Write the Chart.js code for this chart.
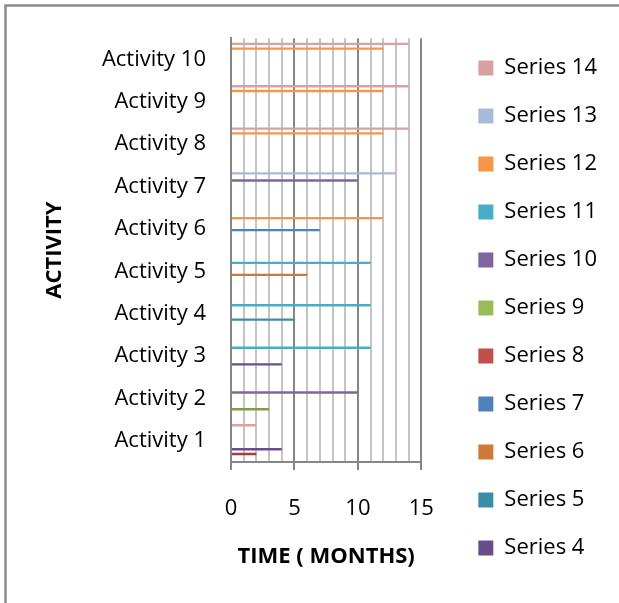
<!DOCTYPE html>
<html>
<head>
<meta charset="utf-8">
<script src="https://cdn.jsdelivr.net/npm/chart.js@4.4.1/dist/chart.umd.min.js"></script>
<style>
  html, body { margin: 0; padding: 0; background: #fff; }
</style>
</head>
<body>
<canvas id="chart" width="619" height="603"></canvas>
<script>
// categories (bottom to top, as in the sheet)
const activities = ['Activity 1', 'Activity 2', 'Activity 3', 'Activity 4', 'Activity 5',
                    'Activity 6', 'Activity 7', 'Activity 8', 'Activity 9', 'Activity 10'];

// months per series, one value per activity (null = no bar)
const series14 = [2, null, null, null, null, null, null, 14, 14, 14];
const series13 = [null, null, null, null, null, null, 13, null, null, null];
const series12 = [null, null, null, null, null, 12, null, 12, 12, 12];
const series11 = [null, null, 11, 11, 11, null, null, null, null, null];
const series10 = [null, 10, null, null, null, null, 10, null, null, null];
const series9 = [null, null, null, null, null, null, null, null, null, null];
const series8 = [null, null, null, null, null, null, null, null, null, null];
const series7 = [null, null, null, null, null, 7, null, null, null, null];
const series6 = [null, null, null, null, 6, null, null, null, null, null];
const series5 = [null, null, null, 5, null, null, null, null, null, null];
const series4 = [4, null, 4, null, null, null, null, null, null, null];
const series3 = [null, 3, null, null, null, null, null, null, null, null];
const series2 = [2, null, null, null, null, null, null, null, null, null];
const series1 = [null, null, null, null, null, null, null, null, null, null];

const xTicks = [0, 5, 10, 15];

// top of each cluster first, so the legend reads Series 14 down
const seriesNames = ['Series 14', 'Series 13', 'Series 12', 'Series 11', 'Series 10', 'Series 9', 'Series 8',
                     'Series 7', 'Series 6', 'Series 5', 'Series 4', 'Series 3', 'Series 2', 'Series 1'];
const seriesValues = [series14, series13, series12, series11, series10, series9, series8,
                      series7, series6, series5, series4, series3, series2, series1];
const seriesColors = ['#D9A0A0', '#A8BADA', '#F79646', '#4BACC6', '#8064A2', '#9BBB59', '#C0504D',
                      '#4F81BD', '#CD7A36', '#3A8DA4', '#684D8A', '#7E9E47', '#A33E3C', '#3F6596'];
// the legend in the original runs out of room after Series 4
const notInLegend = ['Series 3', 'Series 2', 'Series 1'];

const frame = {
  id: 'frame',
  beforeDraw(chart) {
    const c = chart.ctx;
    c.save();
    c.strokeStyle = '#8c8c8c';
    c.lineWidth = 2.5;
    c.beginPath();
    c.moveTo(5.5, chart.height);
    c.lineTo(5.5, 5.5);
    c.lineTo(chart.width, 5.5);
    c.stroke();
    c.restore();
  }
};

Chart.defaults.color = '#000';
Chart.defaults.font.family = '"Open Sans", sans-serif';
Chart.defaults.font.size = 22;

const datasets = seriesNames.map((name, i) => ({
  label: name,
  data: seriesValues[i],
  backgroundColor: seriesColors[i],
  borderWidth: 0
}));

// invisible axes used only as spacers
const spacer = size => ({
  grid: {display: false, drawTicks: false},
  border: {display: false},
  ticks: {display: false},
  afterFit(scale) {
    if (scale.isHorizontal()) scale.height = size; else scale.width = size;
  }
});

new Chart(document.getElementById('chart'), {
  type: 'bar',
  data: {labels: activities, datasets},
  plugins: [frame],
  options: {
    indexAxis: 'y',
    responsive: false,
    animation: false,
    layout: {padding: {top: 31, left: 0, right: 12, bottom: 0}},
    datasets: {bar: {barPercentage: 1, categoryPercentage: 0.79}},
    scales: {
      x: {
        min: 0,
        max: 15,
        ticks: {
          stepSize: 1,
          autoSkip: false,
          maxRotation: 0,
          padding: 26,
          callback: v => (xTicks.includes(v) ? v : '')
        },
        grid: {
          lineWidth: 2,
          tickLength: 8,
          color: c => (c.tick && c.tick.value % 5 === 0 ? '#868686' : '#c4c4c4'),
          tickColor: c => (c.tick && c.tick.value % 5 === 0 ? '#868686' : 'rgba(0,0,0,0)')
        },
        border: {color: '#868686', width: 2},
        title: {
          display: true,
          text: 'TIME ( MONTHS)',
          font: {size: 22, weight: 'bold'},
          padding: {top: 0, bottom: 33}
        },
        afterFit(scale) { scale.height = 141; }
      },
      xGap: {position: 'top', ...spacer(4)},
      y: {
        reverse: true,
        grid: {display: false, drawTicks: false},
        border: {color: '#868686', width: 2},
        ticks: {padding: 25},
        title: {
          display: true,
          text: 'ACTIVITY',
          font: {size: 22, weight: 'bold'},
          padding: {top: 42, bottom: 0}
        },
        afterFit(scale) { scale.width = 231; }
      },
      yGap: {position: 'right', ...spacer(31)}
    },
    plugins: {
      legend: {
        position: 'right',
        align: 'start',
        maxWidth: 220,
        labels: {
          boxWidth: 15,
          boxHeight: 15,
          padding: 26,
          filter: item => !notInLegend.includes(item.text)
        }
      },
      tooltip: {enabled: false}
    }
  }
});
</script>
</body>
</html>
